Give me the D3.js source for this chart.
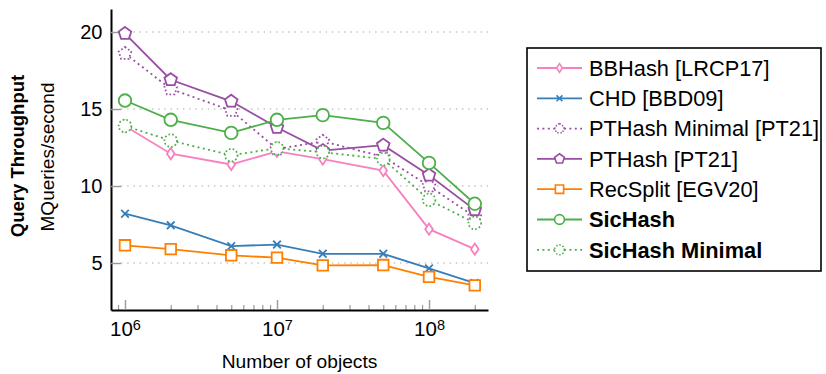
<!DOCTYPE html>
<html>
<head>
<meta charset="utf-8">
<script src="https://cdn.jsdelivr.net/npm/d3@7"></script>
<style>
  body { margin: 0; background: #fff; }
  svg { display: block; font-family: "Liberation Sans", Arial, Helvetica, sans-serif; }
</style>
</head>
<body>
<svg id="chart" width="826" height="374"></svg>
<script>
// Query throughput (MQueries/second) by number of objects
const sizes = [1e6, 2e6, 5e6, 1e7, 2e7, 5e7, 1e8, 2e8];

const bbhash         = [13.9, 12.1, 11.4, 12.25, 11.75, 11.0, 7.2, 5.9];
const chd            = [8.2, 7.45, 6.1, 6.2, 5.6, 5.6, 4.65, 3.7];
const pthashMinimal  = [18.6, 16.3, 14.9, 12.4, 12.9, 11.9, 10.0, 8.0];
const pthash         = [19.9, 16.9, 15.5, 13.8, 12.3, 12.65, 10.7, 8.45];
const recsplit       = [6.15, 5.9, 5.5, 5.35, 4.85, 4.87, 4.1, 3.55];
const sichash        = [15.55, 14.3, 13.45, 14.3, 14.6, 14.1, 11.5, 8.85];
const sichashMinimal = [13.9, 12.95, 12.0, 12.45, 12.2, 11.75, 9.1, 7.6];

const seriesNames = [
  "BBHash [LRCP17]", "CHD [BBD09]", "PTHash Minimal [PT21]", "PTHash [PT21]",
  "RecSplit [EGV20]", "SicHash", "SicHash Minimal"
];

const yTickValues = [5, 10, 15, 20];
const xMajorTicks = [1e6, 1e7, 1e8];

const yLabel = "Query Throughput";
const yUnit = "MQueries/second";
const xLabel = "Number of objects";

// Styling per series
const series = [
  { name: seriesNames[0], values: bbhash,         color: "#f781bf", mark: "diamond",  dotted: false, bold: false },
  { name: seriesNames[1], values: chd,            color: "#377eb8", mark: "x",        dotted: false, bold: false },
  { name: seriesNames[2], values: pthashMinimal,  color: "#984ea3", mark: "pentagon", dotted: true,  bold: false },
  { name: seriesNames[3], values: pthash,         color: "#984ea3", mark: "pentagon", dotted: false, bold: false },
  { name: seriesNames[4], values: recsplit,       color: "#ff7f00", mark: "square",   dotted: false, bold: false },
  { name: seriesNames[5], values: sichash,        color: "#4daf4a", mark: "circle",   dotted: false, bold: true },
  { name: seriesNames[6], values: sichashMinimal, color: "#4daf4a", mark: "circle",   dotted: true,  bold: true }
];

const svg = d3.select("#chart");

const plot = { left: 111, right: 488, top: 8.9, bottom: 310 };

const x = d3.scaleLog()
  .domain([Math.pow(10, 5.908), Math.pow(10, 8.388)])
  .range([plot.left, plot.right]);

const y = d3.scaleLinear()
  .domain([1.95, 21.5])
  .range([plot.bottom, plot.top]);

// Marker path generators, centred on the origin
function markPath(type, s) {
  const p = d3.path();
  if (type === "circle") {
    const r = 6.3 * s;
    p.moveTo(r, 0); p.arc(0, 0, r, 0, Math.PI * 2);
  } else if (type === "square") {
    const h = 5.3 * s;
    p.rect(-h, -h, 2 * h, 2 * h);
  } else if (type === "diamond") {
    const w = 3.8 * s, h = 5.6 * s;
    p.moveTo(0, -h); p.lineTo(w, 0); p.lineTo(0, h); p.lineTo(-w, 0); p.closePath();
  } else if (type === "pentagon") {
    const r = 6.6 * s;
    for (let k = 0; k < 5; k++) {
      const a = -Math.PI / 2 + k * 2 * Math.PI / 5;
      const px = r * Math.cos(a), py = r * Math.sin(a);
      if (k === 0) p.moveTo(px, py); else p.lineTo(px, py);
    }
    p.closePath();
  } else if (type === "x") {
    const h = 3.8 * s;
    p.moveTo(-h, -h); p.lineTo(h, h);
    p.moveTo(-h, h); p.lineTo(h, -h);
  }
  return p.toString();
}

const dotDash = "2 3.4";
const tickFont = "'Liberation Sans', Arial, sans-serif";

// Horizontal grid
svg.append("g")
  .selectAll("line")
  .data(yTickValues)
  .join("line")
  .attr("x1", plot.left + 10)
  .attr("x2", plot.right)
  .attr("y1", d => y(d))
  .attr("y2", d => y(d))
  .attr("stroke", "#c4c4c4")
  .attr("stroke-width", 1.4)
  .attr("stroke-dasharray", "1.4 4.8");

// Y axis
const yAxis = svg.append("g")
  .attr("transform", `translate(${plot.left},0)`)
  .call(d3.axisLeft(y).tickValues(yTickValues).tickSize(-10).tickSizeOuter(0).tickPadding(8.5));
yAxis.selectAll(".tick line").attr("stroke", "#999").attr("stroke-width", 1.4);
yAxis.selectAll(".tick text").attr("font-size", 20).attr("fill", "#000")
  .attr("font-family", tickFont);

// X axis: minor ticks
const minorTicks = [];
for (let d = 5; d <= 8; d++) {
  for (let k = 2; k <= 9; k++) {
    const v = k * Math.pow(10, d);
    if (v >= x.domain()[0] && v <= x.domain()[1]) minorTicks.push(v);
  }
}
const xMinor = svg.append("g")
  .attr("transform", `translate(0,${plot.bottom})`)
  .call(d3.axisBottom(x).tickValues(minorTicks).tickSize(-5).tickSizeOuter(0).tickFormat(""));
xMinor.select(".domain").remove();
xMinor.selectAll(".tick line").attr("stroke", "#999").attr("stroke-width", 1.2);

// X axis: major ticks with power-of-ten labels
const xAxis = svg.append("g")
  .attr("transform", `translate(0,${plot.bottom})`)
  .call(d3.axisBottom(x).tickValues(xMajorTicks).tickSize(-10).tickSizeOuter(0).tickPadding(11.5));
xAxis.selectAll(".tick line").attr("stroke", "#999").attr("stroke-width", 1.4);
xAxis.selectAll(".tick text")
  .attr("font-size", 20.5).attr("fill", "#000")
  .attr("font-family", tickFont)
  .each(function (d) {
    const e = Math.round(Math.log10(d));
    const t = d3.select(this).text("10");
    t.append("tspan").attr("dy", "-0.45em").attr("font-size", 14.5).text(e);
  });

// Axis lines drawn in black on top
xAxis.select(".domain").attr("stroke", "#000").attr("stroke-width", 2);
yAxis.select(".domain").attr("stroke", "#000").attr("stroke-width", 2);

// Series lines and markers
const line = d3.line().x(d => x(d[0])).y(d => y(d[1]));
series.forEach(s => {
  const pts = sizes.map((v, i) => [v, s.values[i]]);
  const g = svg.append("g");
  g.append("path")
    .attr("d", line(pts))
    .attr("fill", "none")
    .attr("stroke", s.color)
    .attr("stroke-width", 1.8)
    .attr("stroke-dasharray", s.dotted ? dotDash : null);
  g.selectAll("path.mark")
    .data(pts)
    .join("path")
    .attr("class", "mark")
    .attr("transform", d => `translate(${x(d[0])},${y(d[1])})`)
    .attr("d", markPath(s.mark, 1))
    .attr("fill", s.mark === "x" ? "none" : "#fff")
    .attr("stroke", s.color)
    .attr("stroke-width", 1.8)
    .attr("stroke-dasharray", s.dotted ? "1.6 2.2" : null);
});

// Axis titles
svg.append("text")
  .attr("transform", "translate(23.5,156) rotate(-90)")
  .attr("text-anchor", "middle")
  .attr("font-size", 18.5)
  .attr("font-weight", "bold")
  .text(yLabel);
svg.append("text")
  .attr("transform", "translate(54,157) rotate(-90)")
  .attr("text-anchor", "middle")
  .attr("font-size", 19)
  .text(yUnit);
svg.append("text")
  .attr("x", (plot.left + plot.right) / 2)
  .attr("y", 368)
  .attr("text-anchor", "middle")
  .attr("font-size", 19.2)
  .text(xLabel);

// Legend
const legend = svg.append("g");
legend.append("rect")
  .attr("x", 527).attr("y", 48)
  .attr("width", 294).attr("height", 223)
  .attr("fill", "#fff")
  .attr("stroke", "#000")
  .attr("stroke-width", 1.6);

const rowY = i => 68 + i * 30.3;
series.forEach((s, i) => {
  const g = legend.append("g").attr("transform", `translate(0,${rowY(i)})`);
  g.append("line")
    .attr("x1", 537).attr("x2", 582)
    .attr("y1", 0).attr("y2", 0)
    .attr("stroke", s.color)
    .attr("stroke-width", 1.8)
    .attr("stroke-dasharray", s.dotted ? dotDash : null);
  g.append("path")
    .attr("transform", "translate(559.5,0)")
    .attr("d", markPath(s.mark, 0.78))
    .attr("fill", s.mark === "x" ? "none" : "#fff")
    .attr("stroke", s.color)
    .attr("stroke-width", 1.6)
    .attr("stroke-dasharray", s.dotted ? "1.4 1.8" : null);
  g.append("text")
    .attr("x", 589)
    .attr("y", 7.8)
    .attr("font-size", 21.8)
    .attr("font-weight", s.bold ? "bold" : "normal")
    .text(s.name);
});
</script>
</body>
</html>
